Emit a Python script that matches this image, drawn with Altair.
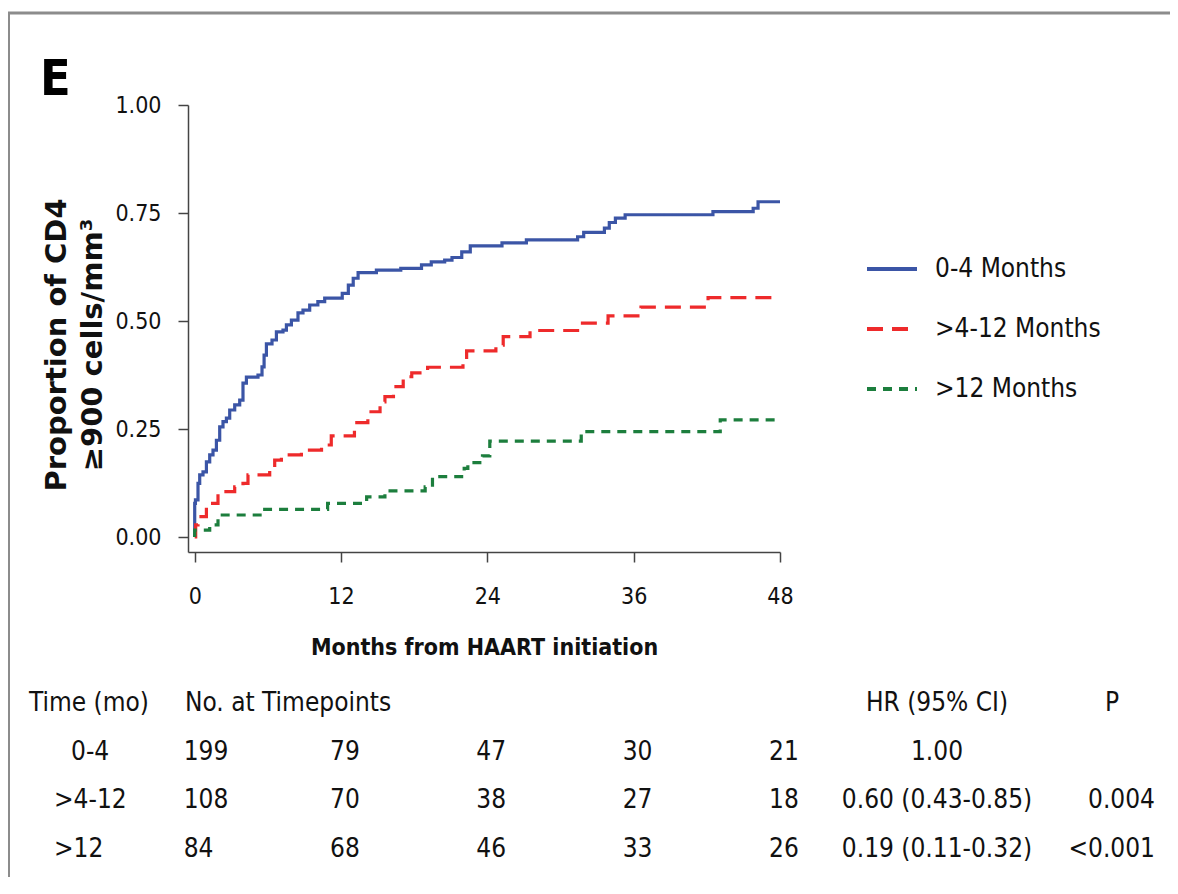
import altair as alt
import pandas as pd

# ---------------- data ----------------
groups = ["0-4 Months", ">4-12 Months", ">12 Months"]
colors = ["#3b55a6", "#ee2a2b", "#1c7e3d"]
dashes = [[1, 0], [16, 9], [9, 7]]

blue_t = [0, 0, 0.06, 0.27, 0.41, 0.68, 0.96, 1.23, 1.5, 1.78, 2.05, 2.32, 2.6, 2.87, 3.28,
          3.69, 3.96, 4.24, 5.19, 5.52, 5.69, 5.88, 6.34, 6.7, 7.24, 7.52, 7.93, 8.47, 8.88,
          9.43, 10.1, 10.66, 12.1, 12.6, 13.0, 13.4, 14.9, 16.9, 18.6, 19.4, 20.5, 21.1, 21.9,
          22.6, 25.2, 27.2, 31.4, 31.9, 33.6, 34.0, 34.5, 35.3, 42.5, 45.8, 46.2, 48]
blue_v = [0, 0.078, 0.086, 0.124, 0.144, 0.151, 0.174, 0.19, 0.201, 0.224, 0.255, 0.267,
          0.275, 0.294, 0.306, 0.317, 0.356, 0.370, 0.375, 0.394, 0.421, 0.447, 0.456, 0.475,
          0.479, 0.491, 0.502, 0.519, 0.525, 0.537, 0.545, 0.553, 0.564, 0.583, 0.599, 0.612,
          0.618, 0.622, 0.630, 0.637, 0.641, 0.647, 0.660, 0.674, 0.681, 0.688, 0.695, 0.705,
          0.715, 0.728, 0.738, 0.746, 0.753, 0.761, 0.776, 0.776]

red_t = [0, 0.08, 0.27, 0.96, 1.91, 3.28, 3.96, 4.37, 6.15, 6.56, 7.11, 8.75, 9.0, 10.4, 11.2,
         13.1, 14.2, 15.2, 15.6, 16.3, 17.1, 17.8, 19.1, 22.0, 22.3, 24.7, 25.3, 27.5, 31.4,
         33.9, 36.6, 42.1, 47.6]
red_v = [0, 0.028, 0.047, 0.078, 0.105, 0.116, 0.124, 0.144, 0.159, 0.178, 0.19, 0.197, 0.201,
         0.213, 0.234, 0.265, 0.290, 0.313, 0.325, 0.348, 0.371, 0.380, 0.393, 0.410, 0.431,
         0.444, 0.464, 0.478, 0.495, 0.512, 0.532, 0.554, 0.554]

green_t = [0, 0, 1.23, 1.91, 5.74, 10.9, 14.1, 15.6, 18.9, 19.5, 22.1, 22.4, 23.6, 24.2, 31.7,
           43.1, 48]
green_v = [0, 0.016, 0.028, 0.051, 0.064, 0.078, 0.093, 0.107, 0.116, 0.140, 0.159, 0.172,
           0.188, 0.222, 0.244, 0.271, 0.271]

risk_months = [0, 12, 24, 36, 48]
risk_04 = [199, 79, 47, 30, 21]
risk_412 = [108, 70, 38, 27, 18]
risk_12 = [84, 68, 46, 33, 26]

row_labels = ["0-4", ">4-12", ">12"]
hr_text = ["1.00", "0.60 (0.43-0.85)", "0.19 (0.11-0.32)"]
p_text = ["", "0.004", "<0.001"]

x_ticks = [0, 12, 24, 36, 48]
y_ticks = [0, 0.25, 0.5, 0.75, 1.0]

# ---------------- tables ----------------
rows = []
for g, ts, vs in zip(groups, [blue_t, red_t, green_t], [blue_v, red_v, green_v]):
    for i, (t, v) in enumerate(zip(ts, vs)):
        rows.append({"group": g, "t": t, "v": v, "i": i})
curve_df = pd.DataFrame(rows)

risk_rows = []
for r, counts in enumerate([risk_04, risk_412, risk_12], start=1):
    for m, c in zip(risk_months, counts):
        risk_rows.append({"month": m, "count": str(c), "row": r})
risk_df = pd.DataFrame(risk_rows)

tab_df = pd.DataFrame({"row": [1, 2, 3], "label": row_labels, "hr": hr_text, "p": p_text})
one = pd.DataFrame({"a": [0]})

NARROW = "DejaVu Sans Condensed, DejaVu Sans, sans-serif"
INK = "#111111"
AX = "#444444"

x_axis = alt.Axis(values=x_ticks, title="Months from HAART initiation", titleFont=NARROW,
                  titleFontWeight="bold", titleFontSize=23, titlePadding=28, titleColor=INK,
                  labelFont=NARROW, labelFontSize=23, labelColor=INK, labelPadding=23,
                  labelFlush=False, labelOverlap=False, tickSize=10, tickWidth=1.5,
                  tickColor=AX, domainColor=AX, domainWidth=1.5, grid=False)
x_scale = alt.Scale(domain=[-0.55, 48], nice=False, zero=False)

legend = alt.Legend(title=None, orient="none", legendX=677, legendY=137, symbolType="stroke",
                    symbolSize=2500, symbolStrokeWidth=4, labelFont=NARROW, labelFontSize=26,
                    labelColor=INK, labelOffset=16, rowPadding=20, labelLimit=0)

curves = alt.Chart(curve_df).mark_line(interpolate="step-after", strokeWidth=3.2).encode(
    x=alt.X("t:Q", scale=x_scale, axis=x_axis),
    y=alt.Y("v:Q", scale=alt.Scale(domain=[-0.0347, 1.0], nice=False, zero=False),
            axis=alt.Axis(values=y_ticks, format=".2f", title=None, labelFont=NARROW,
                          labelFontSize=23, labelColor=INK, labelPadding=17, tickSize=10,
                          tickWidth=1.5, tickColor=AX, domainColor=AX, domainWidth=1.5,
                          grid=False)),
    color=alt.Color("group:N", scale=alt.Scale(domain=groups, range=colors), legend=legend),
    strokeDash=alt.StrokeDash("group:N", scale=alt.Scale(domain=groups, range=dashes),
                              legend=legend),
    order="i:Q",
)

row_y = alt.Y("row:Q", scale=alt.Scale(domain=[0, 3], range=[598, 744]), axis=None)
TXT = dict(font=NARROW, fontSize=26, color=INK, baseline="middle")

risk_text = alt.Chart(risk_df).mark_text(align="left", dx=-11, **TXT).encode(
    x=alt.X("month:Q", scale=x_scale, axis=x_axis), y=row_y, text="count:N")

lab_04 = alt.Chart(tab_df).transform_filter("datum.row == 1").mark_text(
    align="left", **TXT).encode(x=alt.value(-117), y=row_y, text="label:N")
lab_rest = alt.Chart(tab_df).transform_filter("datum.row > 1").mark_text(
    align="left", **TXT).encode(x=alt.value(-134), y=row_y, text="label:N")
hr_col = alt.Chart(tab_df).mark_text(align="center", **TXT).encode(
    x=alt.value(749), y=row_y, text="hr:N")
p_col = alt.Chart(tab_df).mark_text(align="right", **TXT).encode(
    x=alt.value(967), y=row_y, text="p:N")


def label(text, x, y, align="left", **kw):
    style = dict(TXT)
    style.update(kw)
    return alt.Chart(one).mark_text(align=align, text=text, **style).encode(
        x=alt.value(x), y=alt.value(y))


h1 = label("Time (mo)", -159, 598)
h2 = label("No. at Timepoints", -3, 598)
h3 = label("HR (95% CI)", 749, 598, align="center")
h4 = label("P", 924, 598, align="center")

ytitle = alt.Chart(one).mark_text(
    text=["Proportion of CD4", "≥900 cells/mm³"], angle=270, align="center",
    baseline="middle", font="DejaVu Sans", fontWeight="bold", fontSize=29, lineHeight=36,
    color=INK).encode(x=alt.value(-131), y=alt.value(240))

panel = label("E", -148, -25, font=NARROW, fontWeight="bold", fontSize=50, color="#000000")

frame_top = alt.Chart(one).mark_rule(color="#8c8c8c", strokeWidth=3).encode(
    x=alt.value(-180), x2=alt.value(985), y=alt.value(-92))
frame_left = alt.Chart(one).mark_rule(color="#8c8c8c", strokeWidth=2).encode(
    x=alt.value(-179), y=alt.value(-92), y2=alt.value(780))

chart = alt.layer(
    curves, risk_text, lab_04, lab_rest, hr_col, p_col, h1, h2, h3, h4, ytitle, panel,
    frame_top, frame_left,
).resolve_scale(y="independent").properties(
    width=592, height=447, background="white",
    padding={"left": 180, "top": 97, "right": 390, "bottom": 325},
    autosize=alt.AutoSizeParams(type="none"),
).configure_view(strokeWidth=0, stroke="transparent")

chart.save("out.html", embed_options={"renderer": "svg", "actions": False})
